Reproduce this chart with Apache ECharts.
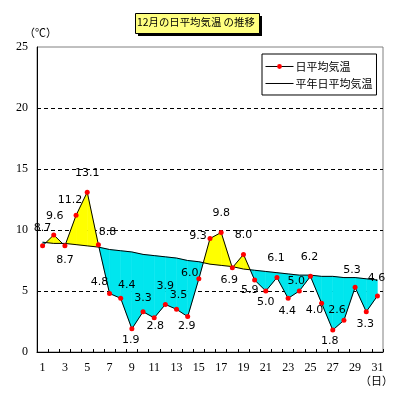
<!DOCTYPE html>
<html>
<head>
    <meta charset="utf-8">
    <title>12月の日平均気温の推移</title>
    <script src="https://cdn.jsdelivr.net/npm/echarts@6/dist/echarts.min.js"></script>
    <style>
        body { margin: 0; background: #fff; }
    </style>
</head>
<body>
    <div id="main" style="width: 399px;height:400px;"></div>
    <script type="text/javascript">
        // データ
        var days = ['1', '2', '3', '4', '5', '6', '7', '8', '9', '10', '11', '12', '13', '14', '15', '16',
            '17', '18', '19', '20', '21', '22', '23', '24', '25', '26', '27', '28', '29', '30', '31'];
        var dailyTemp = [8.7, 9.6, 8.7, 11.2, 13.1, 8.8, 4.8, 4.4, 1.9, 3.3, 2.8, 3.9, 3.5, 2.9, 6.0, 9.3,
            9.8, 6.9, 8.0, 5.9, 5.0, 6.1, 4.4, 5.0, 6.2, 4.0, 1.8, 2.6, 5.3, 3.3, 4.6];
        var normalTemp = [9.0, 8.9, 8.9, 8.8, 8.7, 8.6, 8.4, 8.3, 8.2, 8.0, 7.9, 7.8, 7.7, 7.5, 7.4, 7.2,
            7.1, 7.0, 6.8, 6.7, 6.6, 6.5, 6.4, 6.3, 6.3, 6.2, 6.2, 6.1, 6.1, 6.0, 5.9];

        // ラベルの位置 (点からのずれ, px)
        var labelOffsets = [[0, -18], [1, -19], [0, 14], [-6, -15], [0, -19], [9, -12], [-10, -11], [6, -13],
            [-1, 11], [0, -14], [1, 8], [0, -18], [2, -14], [-1, 10], [-9, -6], [-12, -2], [0, -19], [-3, 12],
            [0, -19], [-5, 10], [0, 11], [-1, -19], [-1, 13], [-3, -10], [-1, -19], [-7, 7], [-3, 11],
            [-7, -10], [-3, -17], [-1, 12], [-1, -18]];

        var jpFont = '"Noto Sans CJK JP", sans-serif';

        // 塗りつぶし用の区間
        var segments = [];
        for (var i = 0; i < dailyTemp.length - 1; i++) {
            segments.push([i, dailyTemp[i], dailyTemp[i + 1], normalTemp[i], normalTemp[i + 1]]);
        }

        var dailyData = dailyTemp.map(function (v, i) {
            return {
                value: v,
                label: { offset: labelOffsets[i] }
            };
        });

        function fillColor(diff) {
            return diff > 0 ? '#FFFF00' : '#00E6EE';
        }

        function poly(pts, color) {
            return {
                type: 'polygon',
                shape: { points: pts },
                style: { fill: color, stroke: color, lineWidth: 0.5 }
            };
        }

        function renderFill(params, api) {
            var i = api.value(0);
            var d0 = api.value(1), d1 = api.value(2), n0 = api.value(3), n1 = api.value(4);
            var D0 = api.coord([i, d0]), D1 = api.coord([i + 1, d1]);
            var N0 = api.coord([i, n0]), N1 = api.coord([i + 1, n1]);
            var diff0 = d0 - n0, diff1 = d1 - n1;
            if (diff0 * diff1 >= 0) {
                return poly([D0, D1, N1, N0], fillColor(diff0 + diff1));
            }
            var t = diff0 / (diff0 - diff1);
            var C = [D0[0] + t * (D1[0] - D0[0]), D0[1] + t * (D1[1] - D0[1])];
            return {
                type: 'group',
                children: [
                    poly([D0, C, N0], fillColor(diff0)),
                    poly([C, D1, N1], fillColor(diff1))
                ]
            };
        }

        var myChart = echarts.init(document.getElementById('main'));
        var option = {
            backgroundColor: '#fff',
            animation: false,
            grid: {
                left: 37,
                right: 16,
                top: 47,
                bottom: 48,
                show: true,
                borderColor: '#808080',
                borderWidth: 1
            },
            legend: {
                orient: 'vertical',
                left: 262,
                top: 54,
                padding: [7, 4, 6, 3],
                itemGap: 6,
                itemWidth: 28,
                itemHeight: 6,
                backgroundColor: '#fff',
                borderColor: '#000',
                borderWidth: 1,
                borderRadius: 0,
                lineStyle: { color: '#000', width: 1 },
                textStyle: { fontFamily: jpFont, fontSize: 11, color: '#000', padding: [0, 0, 0, -3] },
                data: [
                    { name: '日平均気温' },
                    { name: '平年日平均気温', itemStyle: { opacity: 0 } }
                ]
            },
            graphic: [
                {
                    type: 'rect',
                    left: 138, top: 16,
                    shape: { width: 124, height: 20 },
                    style: { fill: '#000' }
                },
                {
                    type: 'rect',
                    left: 135, top: 13,
                    shape: { width: 124, height: 20 },
                    style: { fill: '#FFFF80', stroke: '#000', lineWidth: 1 }
                },
                {
                    type: 'text',
                    left: 137, top: 17,
                    style: { text: '12月の日平均気温 の推移', fill: '#000', font: '10.4px ' + jpFont }
                },
                {
                    type: 'text',
                    left: 24, top: 27,
                    style: { text: '（℃）', fill: '#000', font: '11px ' + jpFont }
                },
                {
                    type: 'text',
                    left: 360, top: 375,
                    style: { text: '（日）', fill: '#000', font: '11px ' + jpFont }
                }
            ],
            xAxis: {
                type: 'category',
                data: days,
                boundaryGap: true,
                axisLine: { lineStyle: { color: '#000', width: 1 } },
                axisTick: { show: true, inside: true, length: 3, interval: 0, lineStyle: { color: '#000' } },
                axisLabel: {
                    interval: 1,
                    margin: 10,
                    color: '#000',
                    fontFamily: '"Liberation Serif", serif',
                    fontSize: 12
                },
                splitLine: { show: false }
            },
            yAxis: {
                type: 'value',
                min: 0,
                max: 25,
                interval: 5,
                axisLine: { show: true, lineStyle: { color: '#000', width: 1 } },
                axisTick: { show: false },
                axisLabel: {
                    margin: 9,
                    color: '#000',
                    fontFamily: '"Liberation Serif", serif',
                    fontSize: 12
                },
                splitLine: {
                    show: true,
                    showMinLine: false,
                    showMaxLine: false,
                    lineStyle: { color: '#000', type: [4, 3], width: 1 }
                }
            },
            series: [
                {
                    type: 'custom',
                    name: 'fill',
                    renderItem: renderFill,
                    encode: { x: 0, y: 1 },
                    data: segments,
                    silent: true,
                    z: 1
                },
                {
                    name: '平年日平均気温',
                    type: 'line',
                    data: normalTemp,
                    symbol: 'none',
                    lineStyle: { color: '#000', width: 1 },
                    itemStyle: { color: '#000' },
                    z: 3
                },
                {
                    name: '日平均気温',
                    type: 'line',
                    data: dailyData,
                    symbol: 'circle',
                    symbolSize: 5,
                    lineStyle: { color: '#000', width: 1 },
                    itemStyle: { color: '#FF0000' },
                    label: {
                        show: true,
                        position: 'inside',
                        color: '#000',
                        fontFamily: '"DejaVu Sans", sans-serif',
                        fontSize: 11,
                        formatter: function (p) { return p.value.toFixed(1); }
                    },
                    z: 4
                }
            ]
        };
        myChart.setOption(option);
    </script>
</body>
</html>
